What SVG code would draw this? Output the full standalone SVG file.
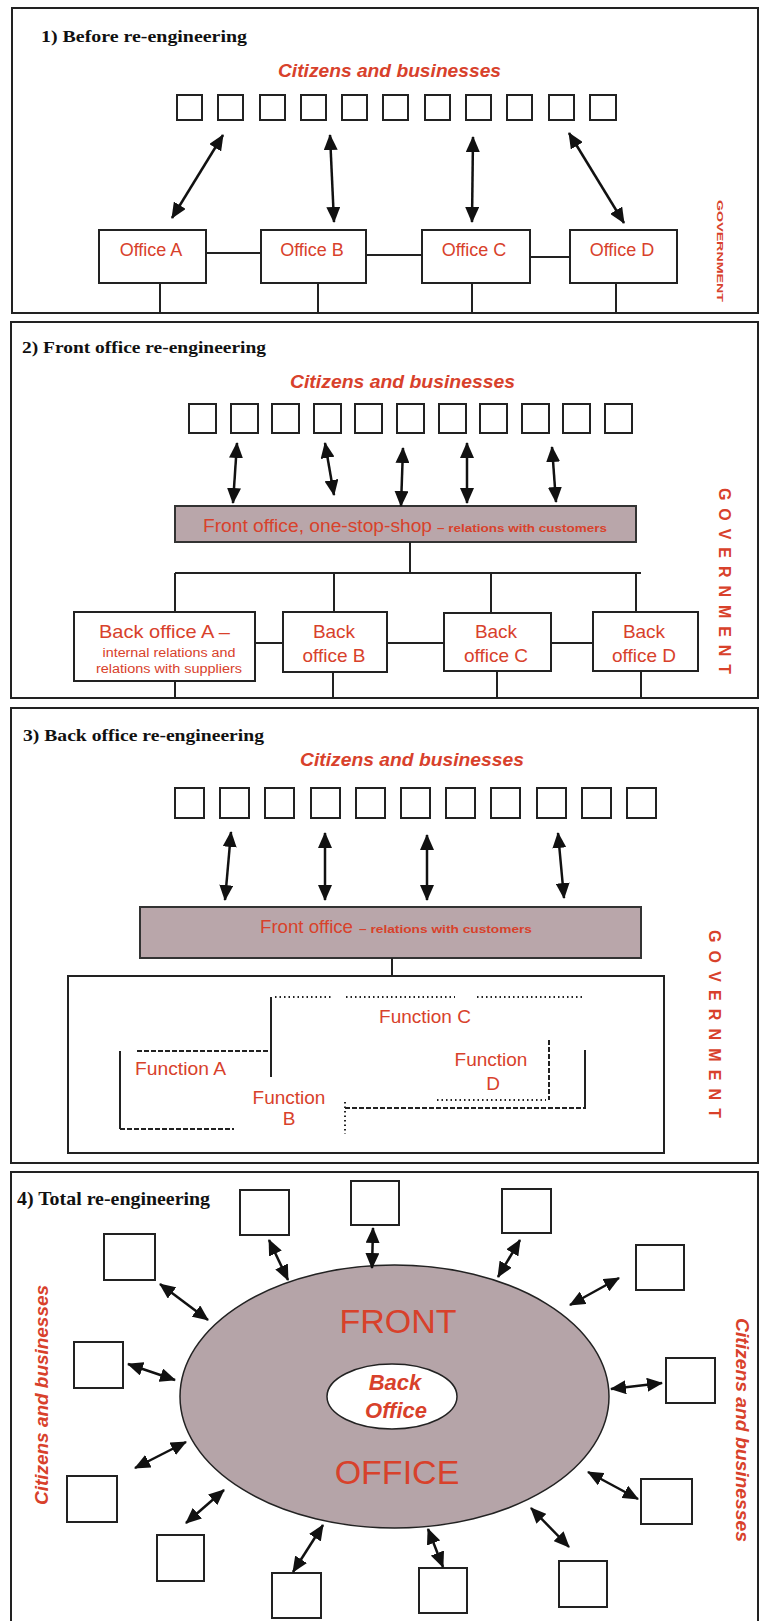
<svg xmlns="http://www.w3.org/2000/svg" width="759" height="1621" viewBox="0 0 759 1621">
<style>
.panel{fill:none;stroke:#222;stroke-width:2}
.title{font-family:"Liberation Serif","Times New Roman",serif;font-weight:bold;fill:#111}
.cit{font-family:"Liberation Sans",Arial,sans-serif;font-weight:bold;font-style:italic;fill:#d8412b}
.red{font-family:"Liberation Sans",Arial,sans-serif;fill:#d8412b}
.sq{fill:#fff;stroke:#222;stroke-width:2}
.box{fill:#fff;stroke:#222;stroke-width:2}
.bar{fill:#b9a6aa;stroke:#333;stroke-width:2}
.arr{stroke:#111;stroke-width:2.5;fill:none;marker-start:url(#ah);marker-end:url(#ah)}
.ln{stroke:#222;stroke-width:2;fill:none}
.gov{font-family:"Liberation Sans",Arial,sans-serif;font-weight:bold;fill:#d8412b}
.dot{stroke:#222;stroke-width:2;fill:none;stroke-dasharray:1.5 3}
.dash{stroke:#222;stroke-width:2;fill:none;stroke-dasharray:5 2}
</style>
<defs>
<marker id="ah" markerUnits="userSpaceOnUse" markerWidth="16" markerHeight="14" refX="15" refY="7" orient="auto-start-reverse"><path d="M0,0 L16,7 L0,14 z" fill="#111"/></marker>
</defs>
<rect width="759" height="1621" fill="#fff"/>

<!-- Panel 1 -->
<g id="panel1">
<rect class="panel" x="12" y="8" width="746" height="305"/>
<text class="title" x="41" y="42" font-size="17" textLength="206" lengthAdjust="spacingAndGlyphs">1) Before re-engineering</text>
<text class="cit" x="278" y="77" font-size="19" textLength="223" lengthAdjust="spacingAndGlyphs">Citizens and businesses</text>
<text class="gov" transform="translate(717,200) rotate(90)" font-size="9" textLength="102" lengthAdjust="spacingAndGlyphs">GOVERNMENT</text>
</g>
<g id="citizens1">
<rect class="sq" x="177" y="95" width="25" height="25"/>
<rect class="sq" x="218" y="95" width="25" height="25"/>
<rect class="sq" x="260" y="95" width="25" height="25"/>
<rect class="sq" x="301" y="95" width="25" height="25"/>
<rect class="sq" x="342" y="95" width="25" height="25"/>
<rect class="sq" x="383" y="95" width="25" height="25"/>
<rect class="sq" x="425" y="95" width="25" height="25"/>
<rect class="sq" x="466" y="95" width="25" height="25"/>
<rect class="sq" x="507" y="95" width="25" height="25"/>
<rect class="sq" x="549" y="95" width="25" height="25"/>
<rect class="sq" x="590" y="95" width="26" height="25"/>
</g>
<g id="officeA"><rect class="box" x="99" y="230" width="107" height="53"/><text class="red" x="151" y="256" font-size="18" text-anchor="middle">Office A</text></g>
<g id="officeB"><rect class="box" x="261" y="230" width="105" height="53"/><text class="red" x="312" y="256" font-size="18" text-anchor="middle">Office B</text></g>
<g id="officeC"><rect class="box" x="422" y="230" width="108" height="53"/><text class="red" x="474" y="256" font-size="18" text-anchor="middle">Office C</text></g>
<g id="officeD"><rect class="box" x="570" y="230" width="107" height="53"/><text class="red" x="622" y="256" font-size="18" text-anchor="middle">Office D</text></g>
<g id="connectors1">
<line class="arr" x1="223" y1="135" x2="172" y2="218"/>
<line class="arr" x1="330" y1="135" x2="334" y2="222"/>
<line class="arr" x1="473" y1="137" x2="472" y2="222"/>
<line class="arr" x1="569" y1="133" x2="624" y2="223"/>
<line class="ln" x1="206" y1="253" x2="261" y2="253"/>
<line class="ln" x1="366" y1="255" x2="422" y2="255"/>
<line class="ln" x1="530" y1="257" x2="570" y2="257" stroke="#666"/>
<line class="ln" x1="160" y1="283" x2="160" y2="312"/>
<line class="ln" x1="318" y1="283" x2="318" y2="312"/>
<line class="ln" x1="472" y1="283" x2="472" y2="312"/>
<line class="ln" x1="616" y1="283" x2="616" y2="312"/>
</g>

<!-- Panel 2 -->
<g id="panel2">
<rect class="panel" x="11" y="322" width="747" height="376"/>
<text class="title" x="22" y="353" font-size="17" textLength="244" lengthAdjust="spacingAndGlyphs">2) Front office re-engineering</text>
<text class="cit" x="290" y="388" font-size="19" textLength="225" lengthAdjust="spacingAndGlyphs">Citizens and businesses</text>
<text class="gov" transform="translate(719,488) rotate(90)" font-size="16" textLength="186" lengthAdjust="spacing">GOVERNMENT</text>
</g>
<g id="citizens2">
<rect class="sq" x="189" y="404" width="27" height="29"/>
<rect class="sq" x="231" y="404" width="27" height="29"/>
<rect class="sq" x="272" y="404" width="27" height="29"/>
<rect class="sq" x="314" y="404" width="27" height="29"/>
<rect class="sq" x="355" y="404" width="27" height="29"/>
<rect class="sq" x="397" y="404" width="27" height="29"/>
<rect class="sq" x="439" y="404" width="27" height="29"/>
<rect class="sq" x="480" y="404" width="27" height="29"/>
<rect class="sq" x="522" y="404" width="27" height="29"/>
<rect class="sq" x="563" y="404" width="27" height="29"/>
<rect class="sq" x="605" y="404" width="27" height="29"/>
</g>
<g id="frontoffice2">
<rect class="bar" x="175" y="506" width="461" height="36"/>
<text class="red" x="203" y="532" font-size="18" textLength="229" lengthAdjust="spacingAndGlyphs">Front office, one-stop-shop</text>
<text class="red" x="437" y="532" font-size="11" font-weight="bold" textLength="170" lengthAdjust="spacingAndGlyphs">– relations with customers</text>
</g>
<g id="backA"><rect class="box" x="74" y="612" width="181" height="69"/>
<text class="red" x="99" y="638" font-size="19" textLength="131" lengthAdjust="spacingAndGlyphs">Back office A –</text>
<text class="red" x="169" y="657" font-size="12" text-anchor="middle" textLength="133" lengthAdjust="spacingAndGlyphs">internal relations and</text>
<text class="red" x="169" y="673" font-size="12" text-anchor="middle" textLength="146" lengthAdjust="spacingAndGlyphs">relations with suppliers</text></g>
<g id="backB"><rect class="box" x="283" y="612" width="104" height="60"/>
<text class="red" x="334" y="638" font-size="19" text-anchor="middle">Back</text>
<text class="red" x="334" y="662" font-size="19" text-anchor="middle">office B</text></g>
<g id="backC"><rect class="box" x="444" y="613" width="107" height="58"/>
<text class="red" x="496" y="638" font-size="19" text-anchor="middle">Back</text>
<text class="red" x="496" y="662" font-size="19" text-anchor="middle">office C</text></g>
<g id="backD"><rect class="box" x="593" y="612" width="105" height="59"/>
<text class="red" x="644" y="638" font-size="19" text-anchor="middle">Back</text>
<text class="red" x="644" y="662" font-size="19" text-anchor="middle">office D</text></g>
<g id="connectors2">
<line class="arr" x1="237" y1="443" x2="233" y2="503"/>
<line class="arr" x1="325" y1="443" x2="334" y2="495"/>
<line class="arr" x1="403" y1="448" x2="401" y2="506"/>
<line class="arr" x1="467" y1="443" x2="467" y2="503"/>
<line class="arr" x1="552" y1="447" x2="556" y2="502"/>
<line class="ln" x1="410" y1="542" x2="410" y2="573"/>
<line class="ln" x1="175" y1="573" x2="641" y2="573"/>
<line class="ln" x1="175" y1="573" x2="175" y2="612"/>
<line class="ln" x1="334" y1="573" x2="334" y2="612"/>
<line class="ln" x1="491" y1="573" x2="491" y2="613"/>
<line class="ln" x1="636" y1="573" x2="636" y2="612"/>
<line class="ln" x1="255" y1="643" x2="283" y2="643"/>
<line class="ln" x1="387" y1="643" x2="444" y2="643"/>
<line class="ln" x1="551" y1="643" x2="593" y2="643"/>
<line class="ln" x1="175" y1="681" x2="175" y2="697"/>
<line class="ln" x1="333" y1="672" x2="333" y2="697"/>
<line class="ln" x1="497" y1="671" x2="497" y2="697"/>
<line class="ln" x1="641" y1="671" x2="641" y2="697"/>
</g>

<!-- Panel 3 -->
<g id="panel3">
<rect class="panel" x="11" y="708" width="747" height="455"/>
<text class="title" x="23" y="741" font-size="17" textLength="241" lengthAdjust="spacingAndGlyphs">3) Back office re-engineering</text>
<text class="cit" x="300" y="766" font-size="19" textLength="224" lengthAdjust="spacingAndGlyphs">Citizens and businesses</text>
<text class="gov" transform="translate(709,930) rotate(90)" font-size="16" textLength="188" lengthAdjust="spacing">GOVERNMENT</text>
</g>
<g id="citizens3">
<rect class="sq" x="175" y="788" width="29" height="30"/>
<rect class="sq" x="220" y="788" width="29" height="30"/>
<rect class="sq" x="265" y="788" width="29" height="30"/>
<rect class="sq" x="311" y="788" width="29" height="30"/>
<rect class="sq" x="356" y="788" width="29" height="30"/>
<rect class="sq" x="401" y="788" width="29" height="30"/>
<rect class="sq" x="446" y="788" width="29" height="30"/>
<rect class="sq" x="491" y="788" width="29" height="30"/>
<rect class="sq" x="537" y="788" width="29" height="30"/>
<rect class="sq" x="582" y="788" width="29" height="30"/>
<rect class="sq" x="627" y="788" width="29" height="30"/>
</g>
<g id="frontoffice3">
<rect class="bar" x="140" y="907" width="501" height="51"/>
<text class="red" x="260" y="933" font-size="18.5" textLength="93" lengthAdjust="spacingAndGlyphs">Front office</text>
<text class="red" x="359" y="933" font-size="10" font-weight="bold" textLength="173" lengthAdjust="spacingAndGlyphs">– relations with customers</text>
</g>
<g id="backoffice3">
<rect class="box" x="68" y="976" width="596" height="177"/>
</g>
<g id="functionC">
<line class="ln" x1="271" y1="997" x2="271" y2="1077"/>
<line class="dot" x1="275" y1="997" x2="331" y2="997"/>
<line class="dot" x1="346" y1="997" x2="455" y2="997"/>
<line class="dot" x1="477" y1="997" x2="585" y2="997"/>
<text class="red" x="425" y="1023" font-size="19" text-anchor="middle">Function C</text>
</g>
<g id="functionA">
<line class="dash" x1="137" y1="1051" x2="270" y2="1051"/>
<line class="ln" x1="120" y1="1051" x2="120" y2="1129" stroke="#3a2a2a"/>
<line class="dash" x1="120" y1="1129" x2="234" y2="1129"/>
<text class="red" x="135" y="1075" font-size="19" textLength="91" lengthAdjust="spacingAndGlyphs">Function A</text>
</g>
<g id="functionB">
<line class="dot" x1="345" y1="1102" x2="345" y2="1134"/>
<line class="dash" x1="345" y1="1108" x2="586" y2="1108"/>
<text class="red" x="289" y="1104" font-size="19" text-anchor="middle">Function</text>
<text class="red" x="289" y="1125" font-size="19" text-anchor="middle">B</text>
</g>
<g id="functionD">
<line class="dot" x1="437" y1="1100" x2="546" y2="1100"/>
<line class="dash" x1="549" y1="1040" x2="549" y2="1100"/>
<line class="ln" x1="585" y1="1050" x2="585" y2="1108" stroke="#666"/>
<text class="red" x="491" y="1066" font-size="19" text-anchor="middle">Function</text>
<text class="red" x="493" y="1090" font-size="19" text-anchor="middle">D</text>
</g>
<g id="connectors3">
<line class="arr" x1="231" y1="832" x2="225" y2="900"/>
<line class="arr" x1="325" y1="833" x2="325" y2="900"/>
<line class="arr" x1="427" y1="835" x2="427" y2="900"/>
<line class="arr" x1="558" y1="833" x2="564" y2="898"/>
<line class="ln" x1="392" y1="958" x2="392" y2="976"/>
</g>

<!-- Panel 4 -->
<g id="panel4">
<rect class="panel" x="11" y="1172" width="747" height="460"/>
<text class="title" x="17" y="1205" font-size="19" textLength="193" lengthAdjust="spacingAndGlyphs">4) Total re-engineering</text>
<text class="cit" transform="translate(48,1395) rotate(-90)" font-size="19" text-anchor="middle" textLength="220" lengthAdjust="spacingAndGlyphs">Citizens and businesses</text>
<text class="cit" transform="translate(736,1430) rotate(90)" font-size="19" text-anchor="middle" textLength="224" lengthAdjust="spacingAndGlyphs">Citizens and businesses</text>
</g>
<g id="frontoffice4">
<ellipse cx="394.5" cy="1396.5" rx="214.5" ry="131.5" fill="#b5a4a8" stroke="#222" stroke-width="1.5"/>
<text class="red" x="398" y="1333" font-size="34" text-anchor="middle">FRONT</text>
<text class="red" x="397" y="1484" font-size="34" text-anchor="middle">OFFICE</text>
</g>
<g id="backoffice4">
<ellipse cx="392" cy="1396.5" rx="65" ry="32.5" fill="#fff" stroke="#222" stroke-width="1.5"/>
<text class="cit" x="395" y="1390" font-size="22" text-anchor="middle">Back</text>
<text class="cit" x="396" y="1418" font-size="22" text-anchor="middle">Office</text>
</g>
<g id="citizens4">
<rect class="sq" x="240" y="1190" width="49" height="45" stroke-width="1.5"/>
<rect class="sq" x="351" y="1181" width="48" height="44" stroke-width="1.5"/>
<rect class="sq" x="502" y="1189" width="49" height="44" stroke-width="1.5"/>
<rect class="sq" x="636" y="1245" width="48" height="45" stroke-width="1.5"/>
<rect class="sq" x="104" y="1234" width="51" height="46" stroke-width="1.5"/>
<rect class="sq" x="74" y="1342" width="49" height="46" stroke-width="1.5"/>
<rect class="sq" x="666" y="1358" width="49" height="45" stroke-width="1.5"/>
<rect class="sq" x="67" y="1476" width="50" height="46" stroke-width="1.5"/>
<rect class="sq" x="641" y="1479" width="51" height="45" stroke-width="1.5"/>
<rect class="sq" x="157" y="1535" width="47" height="46" stroke-width="1.5"/>
<rect class="sq" x="559" y="1561" width="48" height="46" stroke-width="1.5"/>
<rect class="sq" x="272" y="1573" width="49" height="45" stroke-width="1.5"/>
<rect class="sq" x="419" y="1568" width="48" height="45" stroke-width="1.5"/>
</g>
<g id="connectors4">
<line class="arr" x1="269" y1="1240" x2="288" y2="1280"/>
<line class="arr" x1="373" y1="1228" x2="372" y2="1268"/>
<line class="arr" x1="520" y1="1240" x2="498" y2="1277"/>
<line class="arr" x1="619" y1="1278" x2="570" y2="1305"/>
<line class="arr" x1="160" y1="1284" x2="208" y2="1320"/>
<line class="arr" x1="128" y1="1364" x2="175" y2="1380"/>
<line class="arr" x1="611" y1="1389" x2="662" y2="1383"/>
<line class="arr" x1="186" y1="1442" x2="135" y2="1468"/>
<line class="arr" x1="588" y1="1472" x2="638" y2="1499"/>
<line class="arr" x1="224" y1="1490" x2="186" y2="1523"/>
<line class="arr" x1="531" y1="1508" x2="569" y2="1547"/>
<line class="arr" x1="323" y1="1525" x2="293" y2="1572"/>
<line class="arr" x1="428" y1="1529" x2="443" y2="1567"/>
</g>
</svg>
